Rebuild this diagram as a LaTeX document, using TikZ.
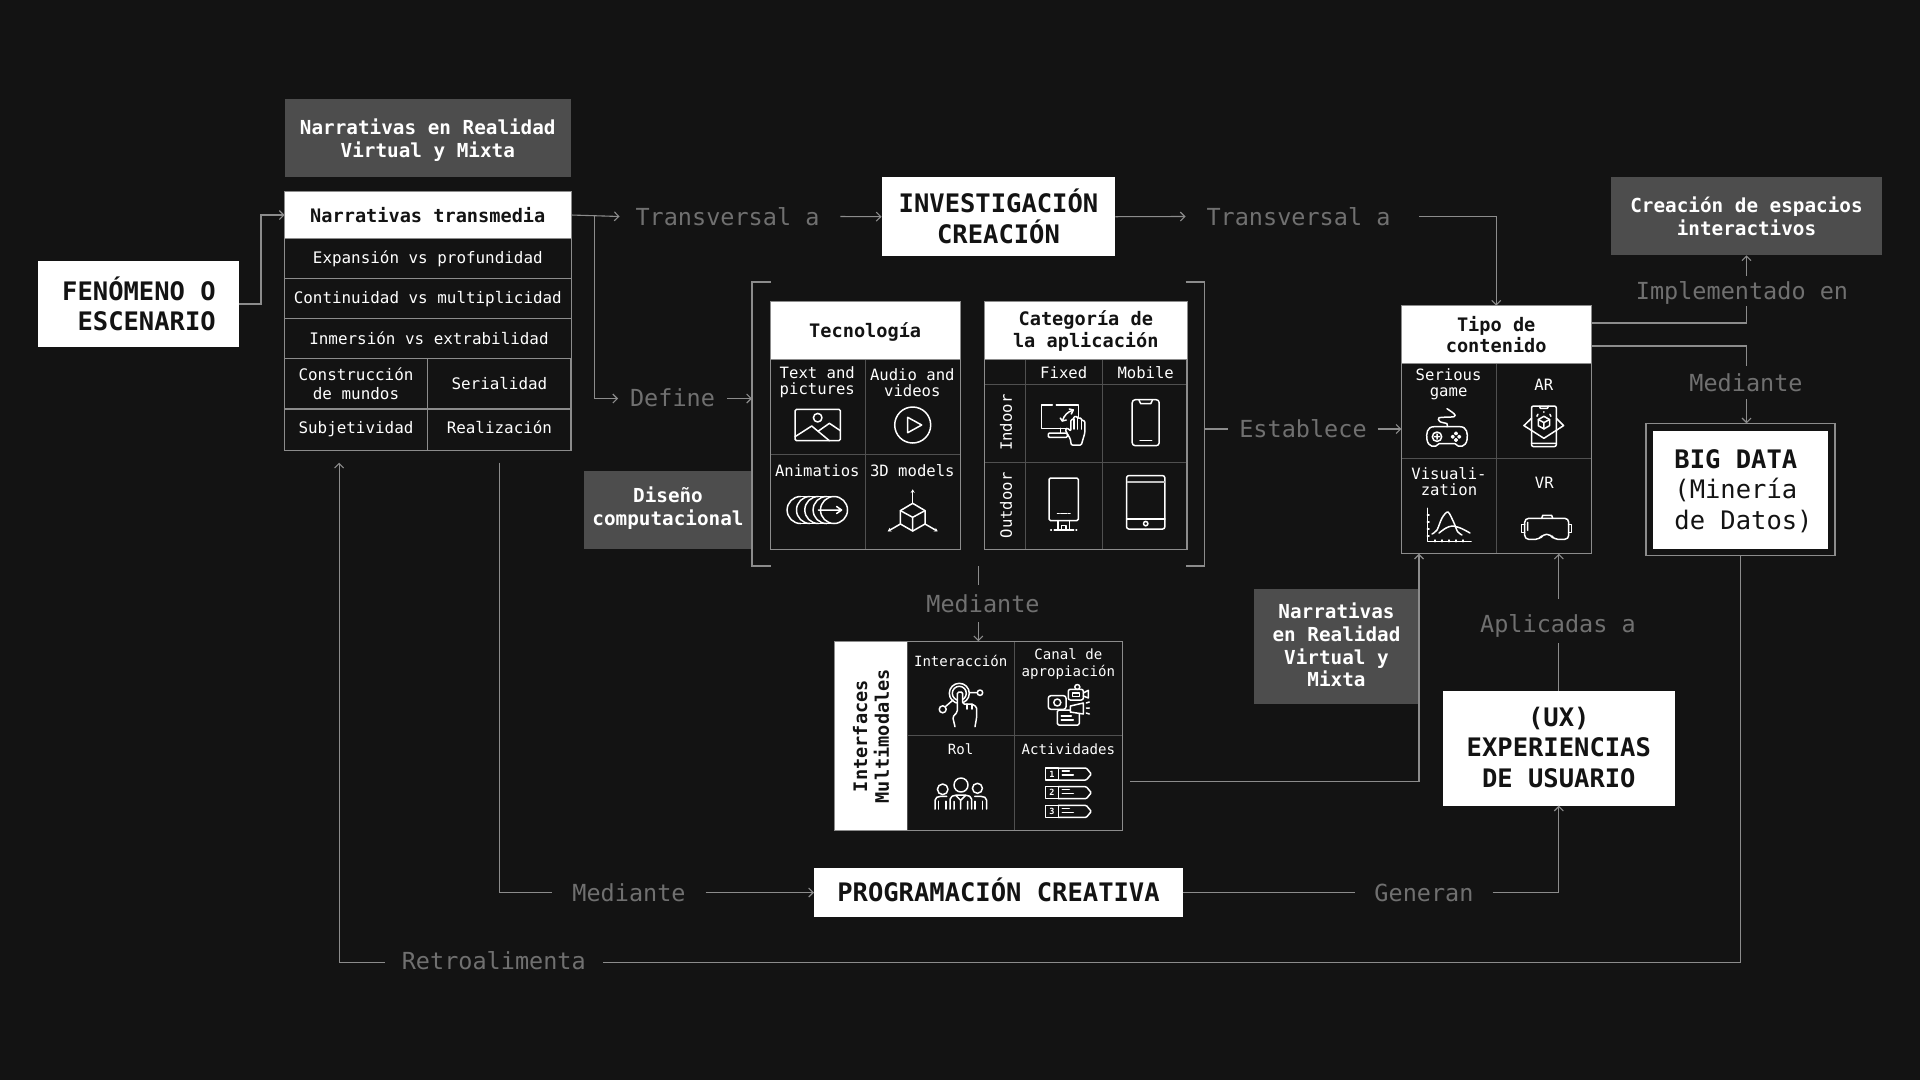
\documentclass[tikz,border=0pt]{standalone}
\usepackage{fontspec}
\setmainfont{DejaVu Sans Mono}
\usetikzlibrary{arrows.meta}
\definecolor{bgcol}{HTML}{131313}
\definecolor{linegray}{HTML}{8C8C8C}
\definecolor{cellgray}{HTML}{505050}
\definecolor{labgray}{HTML}{707070}
\definecolor{boxgray}{HTML}{4D4D4D}
\tikzset{
  >={Straight Barb[length=4.5pt,width=9pt]},
  conn/.style={draw=linegray,line width=1.1pt},
  arr/.style={conn,->},
  labeltxt/.style={text=labgray,font=\fontsize{23.5}{28}\selectfont,inner xsep=14pt,inner ysep=0pt,minimum height=32pt,outer sep=0pt},
  whitebox/.style={fill=white,inner sep=0pt,outer sep=0pt},
  whitetxt/.style={text=bgcol,font=\bfseries\fontsize{25.5}{30.5}\selectfont,align=center,inner sep=0pt},
  graybox/.style={fill=boxgray,inner sep=0pt,outer sep=0pt},
  graytxt/.style={text=white,font=\bfseries\fontsize{19.3}{22.8}\selectfont,align=center,inner sep=0pt},
  headbox/.style={fill=white,draw=linegray,line width=1pt,text=bgcol,font=\bfseries\fontsize{18.6}{21.8}\selectfont,align=center,inner sep=0pt,outer sep=0pt},
  rowcell/.style={draw=linegray,line width=1.1pt,inner sep=0pt,outer sep=0pt},
  cellbox/.style={draw=cellgray,line width=1pt,inner sep=0pt,outer sep=0pt},
  framebox/.style={draw=linegray,line width=1.1pt,inner sep=0pt,outer sep=0pt},
  rowtxt/.style={text=white,font=\fontsize{15.9}{19}\selectfont,align=center,inner sep=0pt},
  celltxt/.style={text=white,font=\fontsize{15.6}{16}\selectfont,align=center,inner sep=0pt},
  smalltxt/.style={text=white,font=\fontsize{14.1}{17}\selectfont,align=center,inner sep=0pt},
  iconln/.style={draw=white,line width=1.5pt,line cap=round,line join=round},
  imgicon/.pic={
    \draw[iconln,rounded corners=1.5pt] (-22.7,-15.7) rectangle (22.7,15.7);
    \draw[iconln] (0,-7.3) circle[radius=4.3];
    \draw[iconln] (-22.7,11.7) -- (-6,1) -- (11.7,15.7) (0.7,6) -- (11.7,-1.7) -- (22.7,5.7);
  },
  playicon/.pic={
    \draw[iconln] (0,0) circle[radius=18];
    \draw[iconln] (-5,-7.7) -- (-5,7.7) -- (9,0) -- cycle;
  },
  animicon/.pic={
    \foreach \cx in {-16.7,-7.3,1,9.3}
      \draw[iconln] (\cx,-13.5) arc (270:90:13.5);
    \draw[iconln] (-16.7,-13.5) -- (16.7,-13.5) (-16.7,13.5) -- (16.7,13.5);
    \draw[iconln] (16.7,0) circle[radius=13.5];
    \draw[iconln] (1,0) -- (24.3,0) (19.3,-3.5) -- (24.3,0) -- (19.3,3.5);
  },
  cubeicon/.pic={
    \draw[iconln] (0,-14) -- (12.3,-6.7) -- (12.3,6.7) -- (0,13.7) -- (-12.3,6.7) -- (-12.3,-6.7) -- cycle;
    \draw[iconln] (-12.3,-6.7) -- (0,0) -- (12.3,-6.7) (0,0) -- (0,13.7);
    \draw[iconln,-{Stealth[length=3.5pt,width=4pt]}] (0,-14) -- (0,-28);
    \draw[iconln,-{Stealth[length=3.5pt,width=4pt]}] (12.3,6.7) -- (25,14);
    \draw[iconln,-{Stealth[length=3.5pt,width=4pt]}] (-12.3,6.7) -- (-25,14);
  },
  monicon/.pic={
    \draw[iconln] (15,-4) -- (15,-20) -- (-7,-20) (-11,-20) -- (-21.7,-20) -- (-21.7,3.3) -- (4,3.3);
    \draw[iconln] (-3,3.3) -- (-3,8) (3,3.3) -- (3,8);
    \draw[iconln,rounded corners=1pt] (-15,8) rectangle (4,12.3);
    \draw[iconln] (-1,-4) .. controls (1,-10) and (4,-13) .. (10,-15);
    \draw[iconln] (-3,-7) -- (-1,-4) -- (3,-5) (6,-16) -- (10,-15) -- (8,-11);
    \draw[iconln,fill=bgcol,rounded corners=1pt] (8,20) -- (7,14) -- (2,5) -- (4,3) -- (7.5,6) -- (7.5,-5) -- (10.5,-6) -- (10.5,-8.5) -- (14,-8.5) -- (14,-7) -- (18,-7) -- (18,-5) -- (21.5,-4) -- (21.5,8) -- (18,20) -- cycle;
    \draw[iconln] (10.5,-6) -- (10.5,4) (14,-7) -- (14,4) (18,-5) -- (18,4);
  },
  phoneicon/.pic={
    \draw[iconln,rounded corners=3pt] (-13.5,-23) rectangle (13.5,23);
    \draw[iconln] (-6.7,-22.5) -- (-5,-19) -- (5,-19) -- (6.7,-22.5);
    \draw[iconln] (-5.7,18) -- (6,18);
  },
  kioskicon/.pic={
    \draw[iconln,rounded corners=1.5pt] (-14.7,-21.3) rectangle (14.7,21.3);
    \draw[iconln] (-6.3,14) -- (-4.5,14) (-3,14) -- (3,14) (4.5,14) -- (6.3,14);
    \draw[iconln] (-5.5,21.3) -- (-5.5,30.7) (6,21.3) -- (6,30.7) (-2,26) rectangle (2.5,30.7);
    \draw[iconln] (-9.5,30.7) -- (10,30.7) (-13,30.7) -- (-12.3,30.7) (12.3,30.7) -- (13,30.7);
  },
  tableticon/.pic={
    \draw[iconln,rounded corners=2.5pt] (-19.2,-26.8) rectangle (19.2,26.8);
    \draw[draw=white!75!black,line width=1.8pt] (-19.2,-20.7) -- (19.2,-20.7);
    \draw[iconln] (-19.2,16.7) -- (19.2,16.7);
    \draw[iconln] (0,21.3) circle[radius=2.2];
  },
  padicon/.pic={
    \draw[iconln] (-13,-10) -- (13,-10) .. controls (20,-10) and (21,-3) .. (20,3) .. controls (19,10) and (12,12) .. (8,7) -- (-8,7) .. controls (-12,12) and (-19,10) .. (-20,3) .. controls (-21,-3) and (-20,-10) .. (-13,-10) -- cycle;
    \draw[iconln] (-10,0) circle[radius=4.7] (-10,-2.5) -- (-10,2.5) (-12.5,0) -- (-7.5,0);
    \foreach \dx/\dy in {9/-3.3,9/3.3,5.7/0,12.3/0}
      \draw[iconln] (\dx,\dy) circle[radius=1.3];
    \draw[iconln] plot[smooth] coordinates {(0,-10) (0,-13) (-7,-15) (-8,-19) (7,-20) (7,-23) (0,-28)};
  },
  aricon/.pic={
    \draw[iconln,fill=bgcol] (-12.4,-8) -- (-20,-0.7) -- (0,12) -- (19.7,-0.7) -- (12.4,-8);
    \draw[iconln,rounded corners=2pt] (-12.4,-20.3) rectangle (12.4,20.3);
    \draw[iconln] (-4.5,-20) -- (-3.5,-18) -- (3.5,-18) -- (4.5,-20) (-12.4,17) -- (12.4,17);
    \draw[iconln] (0,-10) -- (5.6,-6.8) -- (5.6,-0.6) -- (0,2.6) -- (-5.6,-0.6) -- (-5.6,-6.8) -- cycle;
    \draw[iconln] (-5.6,-6.8) -- (0,-3.7) -- (5.6,-6.8) (0,-3.7) -- (0,2.6);
    \draw[iconln] (-7,-10) -- (-6,-12) (0,-14) -- (0,-14.5) (7,-10) -- (6,-12);
  },
  graphicon/.pic={
    \draw[iconln] (-21.7,-16.7) -- (-21.7,16.7) -- (22,16.7);
    \foreach \tx in {-14,-7,0,7,14}
      \draw[iconln] (\tx,16.7) -- (\tx,15);
    \foreach \ty in {-10,-3,4,11}
      \draw[iconln] (-21.7,\ty) -- (-20,\ty);
    \draw[iconln] plot[smooth] coordinates {(-17,9) (-12,5) (-7,-7) (-1,-13) (5,-2) (8.6,6.7) (13,10)};
    \draw[iconln] plot[smooth] coordinates {(-10,8) (-3,3) (3.4,1) (12,3.3) (21,8)};
  },
  vricon/.pic={
    \draw[iconln,rounded corners=4pt] (-22,-9) -- (22,-9) -- (22,12) -- (7,12) -- (4,7) -- (-4,7) -- (-7,12) -- (-22,12) -- cycle;
    \draw[iconln] (-22,-3) -- (-25,-3) -- (-25,5) -- (-22,5) (22,-3) -- (25,-3) -- (25,5) -- (22,5);
    \draw[iconln] (-5,-9) -- (-4,-12) -- (5,-12) -- (6,-9) (-19,-5) -- (-19,3);
  },
  touchicon/.pic={
    \draw[iconln] (-0.7,-11.7) circle[radius=10] (-0.7,-11.7) circle[radius=7];
    \draw[iconln] (20,-12.3) circle[radius=2.7] (9.5,-12.3) -- (17.3,-12.3);
    \draw[iconln] (-17.3,4.3) circle[radius=3.5] (-15,2) -- (-7,-5);
    \draw[iconln,fill=bgcol,rounded corners=1.5pt] (-5,21.7) -- (-7.3,12) -- (-2.7,7) -- (-2.7,-13) -- (2.7,-13) -- (2.7,-1) -- (7,-1) -- (12,-1) -- (16.7,2) -- (16.7,12) -- (15,21.7);
    \draw[iconln] (7,-1) -- (7,4) (12,-1) -- (12,4);
  },
  canalicon/.pic={
    \draw[iconln,rounded corners=1.5pt] (-11,5) rectangle (11,20);
    \draw[iconln] (-7,11) -- (3,11) (-7,15) -- (5,15);
    \draw[iconln,fill=bgcol,rounded corners=2.5pt] (-20,-9.3) rectangle (-2.3,4.3);
    \draw[iconln] (-11,-2.5) circle[radius=3.5];
    \draw[iconln,rounded corners=2pt] (0,-15.7) rectangle (15,-5);
    \draw[iconln] (4,-12) rectangle (11,-8.5);
    \draw[iconln] (15,-12) -- (20,-14.7) -- (20,-7) -- (15,-9);
    \draw[iconln] (9,-18) circle[radius=2.5];
    \draw[iconln,fill=bgcol] (2,1) -- (15,-2) -- (15,9) -- (2,7) -- cycle;
    \draw[iconln] (18,-2) -- (21,-3) (18,3) -- (21,3) (18,8) -- (21,9);
  },
  rolicon/.pic={
    \draw[iconln] (0.3,-8.3) circle[radius=7] (-18,-4) circle[radius=5.3] (16.7,-5) circle[radius=5];
    \draw[iconln,rounded corners=2pt] (-10.7,15.7) -- (-10.7,4) -- (-5.7,1.7) -- (6,1.7) -- (11,4) -- (11,15.7);
    \draw[iconln] (-6.7,15.7) -- (-6.7,8) (7,15.7) -- (7,8) (-5,2) -- (0,7) -- (5,2) (0,7) -- (0,15.7);
    \draw[iconln,rounded corners=2pt] (-25.7,15.7) -- (-25.7,5) -- (-22,3) -- (-14,3);
    \draw[iconln] (-22,15.7) -- (-22,8) (-14.5,15.7) -- (-14.5,8);
    \draw[iconln,rounded corners=2pt] (14,3) -- (22,3) -- (26,5) -- (26,15.7);
    \draw[iconln] (14.5,15.7) -- (14.5,8) (22,15.7) -- (22,8);
  },
  acticon/.pic={
    \foreach \r/\yy in {1/-18.7,2/0,3/18.7}{
      \draw[iconln] (-22.7,{\yy-6}) rectangle (-10,{\yy+6});
      \draw[iconln,rounded corners=1pt] (-10,{\yy-6}) -- (18,{\yy-6}) -- (23,\yy) -- (18,{\yy+6}) -- (-10,{\yy+6});
      \draw[iconln] (-6,{\yy-3}) -- (1,{\yy-3}) (-6,{\yy+1}) -- (5,{\yy+1});
      \node[text=white,font=\bfseries\fontsize{8.5}{9}\selectfont,inner sep=0pt] (dig\r) at (-16.3,\yy) {\r};
    }
  }
}
\begin{document}
\begin{tikzpicture}[x=1pt,y=-1pt]
  \fill[bgcol] (0,0) rectangle (1920,1080);
  % fixed boxes
  \node[whitebox,minimum width=201pt,minimum height=85.4pt] (fen) at (138.5,304) {};
  \node[whitetxt,align=right] (fent) at (139,304) {FENÓMENO O\\ESCENARIO};
  \node[graybox,minimum width=286.5pt,minimum height=78.3pt] (nrv) at (427.8,138.2) {};
  \node[graytxt] (nrvt) at (427.8,140.5) {Narrativas en Realidad\\Virtual y Mixta};
  \node[whitebox,minimum width=233.9pt,minimum height=78.5pt] (inv) at (998.5,216.7) {};
  \node[whitetxt] (invt) at (998.5,216.3) {INVESTIGACIÓN\\CREACIÓN};
  \node[graybox,minimum width=168pt,minimum height=78pt] (dis) at (668,510.3) {};
  \node[graytxt] (dist) at (668,507.8) {Diseño\\computacional};
  \node[graybox,minimum width=271pt,minimum height=78pt] (crea) at (1746.5,216.3) {};
  \node[graytxt,font=\bfseries\fontsize{19.3}{22.2}\selectfont] (creat) at (1746.5,216.3) {Creación de espacios\\interactivos};
  \node[graybox,minimum width=164pt,minimum height=115pt] (nrw) at (1336,646.5) {};
  \node[graytxt] (nrwt) at (1336.5,645) {Narrativas\\en Realidad\\Virtual y\\Mixta};
  \node[whitebox,minimum width=232.5pt,minimum height=115.1pt] (ux) at (1558.8,748.1) {};
  \node[whitetxt] (uxt) at (1558.8,747) {(UX)\\EXPERIENCIAS\\DE USUARIO};
  \node[whitebox,minimum width=369pt,minimum height=49pt] (pro) at (998.5,892.5) {};
  \node[whitetxt,text depth=4.8pt] (prot) at (998.5,892.5) {PROGRAMACIÓN CREATIVA};
  \node[framebox,minimum width=189pt,minimum height=132.4pt] (bigo) at (1740.5,489.5) {};
  \node[whitebox,minimum width=174.9pt,minimum height=118pt] (bigi) at (1740.8,489.7) {};
  \node[whitetxt,align=left] (bigt) at (1743.5,491) {BIG DATA\\\mdseries(Minería\\\mdseries de Datos)};
  % left table
  \node[headbox,minimum width=286.5pt,minimum height=46.6pt] (tr0) at (427.8,215) {Narrativas transmedia};
  \foreach \n/\x/\y/\w/\h in {tr1/427.8/258.3/286.5/40,tr2/427.8/298.5/286.5/40.4,tr3/427.8/338.5/286.5/39.6,tr4a/356.1/383.6/143.3/50.7,tr4b/499.4/383.6/143.2/50.7,tr5a/356.1/429.8/143.3/41.7,tr5b/499.4/429.8/143.2/41.7}
    \node[rowcell,minimum width=\w pt,minimum height=\h pt] (\n) at (\x,\y) {};
  \node[rowtxt] (tt1) at (427.8,259) {Expansión vs profundidad};
  \node[rowtxt] (tt2) at (427.8,299.3) {Continuidad vs multiplicidad};
  \node[rowtxt] (tt3) at (429,338.7) {Inmersión vs extrabilidad};
  \node[rowtxt] (tt4) at (356,384) {Construcción\\de mundos};
  \node[rowtxt] (tt5) at (499.4,383.3) {Serialidad};
  \node[rowtxt] (tt6) at (356,428.9) {Subjetividad};
  \node[rowtxt] (tt7) at (499.4,427.2) {Realización};
  % tecnologia
  \foreach \n/\x/\y in {tc1/818/406.8,tc2/912.8/406.8,tc3/818/501.8,tc4/912.8/501.8}
    \node[cellbox,minimum width=94.7pt,minimum height=95pt] (\n) at (\x,\y) {};
  \node[framebox,minimum width=189.7pt,minimum height=247.3pt] (tcf) at (865.2,425.6) {};
  \node[headbox,text depth=2pt,minimum width=189.7pt,minimum height=57.3pt] (tch) at (865.2,330.6) {Tecnología};
  \node[celltxt] (tt8) at (817.3,382.3) {Text and\\pictures};
  \node[celltxt] (tt9) at (912.3,382.3) {Audio and\\videos};
  \node[celltxt] (tt10) at (817.3,471) {Animatios};
  \node[celltxt] (tt11) at (912.3,471) {3D models};
  \pic at (817.7,425) {imgicon};
  \pic at (912.7,425) {playicon};
  \pic at (817.3,510) {animicon};
  \pic at (912.7,517.3) {cubeicon};
  % categoria
  \foreach \n/\x/\y/\w/\h in {ca0/1005/371.8/40.8/25,ca1/1063.9/371.8/77/25,ca2/1144.7/371.8/84.6/25,ca3/1005/423.3/40.8/78,ca4/1063.9/423.3/77/78,ca5/1144.7/423.3/84.6/78,ca6/1005/505.8/40.8/87,ca7/1063.9/505.8/77/87,ca8/1144.7/505.8/84.6/87}
    \node[cellbox,minimum width=\w pt,minimum height=\h pt] (\n) at (\x,\y) {};
  \node[framebox,minimum width=202.4pt,minimum height=247.3pt] (caf) at (1085.8,425.6) {};
  \node[headbox,minimum width=202.4pt,minimum height=57.3pt] (cah) at (1085.8,330.6) {Categoría de\\la aplicación};
  \node[celltxt] (tt12) at (1063.7,372.3) {Fixed};
  \node[celltxt] (tt13) at (1145.7,372.3) {Mobile};
  \node[celltxt,rotate=90] (tt14) at (1006,422.7) {Indoor};
  \node[celltxt,rotate=90] (tt15) at (1006,505.3) {Outdoor};
  \pic at (1063.3,425) {monicon};
  \pic at (1145.7,422.7) {phoneicon};
  \pic at (1063.7,499.3) {kioskicon};
  \pic at (1145.7,502.3) {tableticon};
  % tipo de contenido
  \foreach \n/\x/\y/\w/\h in {tp1/1449/410.8/95.4/95,tp2/1543.9/410.8/94.3/95,tp3/1449/506/95.4/95.4,tp4/1543.9/506/94.3/95.4}
    \node[cellbox,minimum width=\w pt,minimum height=\h pt] (\n) at (\x,\y) {};
  \node[framebox,minimum width=189.7pt,minimum height=248pt] (tpf) at (1496.2,429.7) {};
  \node[headbox,minimum width=189.7pt,minimum height=57.6pt] (tph) at (1496.2,334.5) {Tipo de\\contenido};
  \node[celltxt] (tt16) at (1448.6,384.7) {Serious\\game};
  \node[celltxt] (tt17) at (1543.8,385) {AR};
  \node[celltxt] (tt18) at (1449,481.3) {Visuali-\\zation};
  \node[celltxt] (tt19) at (1544.3,483.3) {VR};
  \pic at (1447,436.7) {padicon};
  \pic at (1543.9,426.3) {aricon};
  \pic at (1449,525) {graphicon};
  \pic at (1546.7,527.3) {vricon};
  % interfaces
  \foreach \n/\x/\y/\w/\h in {if1/960.7/688.5/107.3/94.4,if2/1068.3/688.5/108/94.4,if3/960.7/783.2/107.3/95,act/1068.3/783.2/108/95}
    \node[cellbox,minimum width=\w pt,minimum height=\h pt] (\n) at (\x,\y) {};
  \node[framebox,minimum width=287.6pt,minimum height=189.4pt] (ifz) at (978.5,736) {};
  \node[headbox,draw=none,rotate=90,minimum width=188pt,minimum height=71.3pt] (ifh) at (871,736) {Interfaces\\Multimodales};
  \node[smalltxt] (tt20) at (960.7,661) {Interacción};
  \node[smalltxt] (tt21) at (1068.3,663.7) {Canal de\\apropiación};
  \node[smalltxt] (tt22) at (960.7,749) {Rol};
  \node[smalltxt] (tt23) at (1068.3,749) {Actividades};
  \pic at (960,705) {touchicon};
  \pic at (1068.3,705) {canalicon};
  \pic at (960.7,793.3) {rolicon};
  \pic at (1068.3,792.7) {acticon};
  % group bracket
  \node[minimum width=452.7pt,minimum height=284pt,inner sep=0pt,outer sep=0pt] (grp) at (978.35,424) {};
  \draw[conn] ([xshift=19pt]grp.north west) -- (grp.north west) -- (grp.south west) -- ([xshift=19pt]grp.south west);
  \draw[conn] ([xshift=-19pt]grp.north east) -- (grp.north east) -- (grp.south east) -- ([xshift=-19pt]grp.south east);
  % labels
  \node[labeltxt,inner xsep=16pt] (ta1) at (727.5,216.5) {Transversal a};
  \node[labeltxt,inner xsep=12pt,text depth=2.5pt] (def) at (672.5,398.5) {Define};
  \node[labeltxt,inner xsep=21pt] (ta2) at (1298.5,216.5) {Transversal a};
  \node[labeltxt,inner xsep=11pt] (est) at (1303,429) {Establece};
  \node[labeltxt,minimum height=37pt] (med1) at (983,603.7) {Mediante};
  \node[labeltxt,minimum height=30pt,text height=21.5pt] (imp) at (1742,291) {Implementado en};
  \node[labeltxt,minimum height=33pt] (med2) at (1746,382.5) {Mediante};
  \node[labeltxt,minimum height=44pt,text height=27.7pt] (apl) at (1558,621) {Aplicadas a};
  \node[labeltxt,inner xsep=20pt] (med3) at (629,892.5) {Mediante};
  \node[labeltxt,inner xsep=19pt] (gen) at (1424,892.5) {Generan};
  \node[labeltxt,inner xsep=17pt,text depth=4pt] (ret) at (493.8,962.5) {Retroalimenta};
  % connectors
  \draw[arr] (fen.east) -- ++(22,0) |- (tr0.west);
  \draw[arr] (tr0.east) -- (ta1.west);
  \draw[arr,shorten <=5pt] (ta1.east) -- (inv.west);
  \draw[arr] (tr0.east) ++(23,0) |- (def.west);
  \draw[arr] (def.east) -- (grp.west |- def.east);
  \draw[arr] (inv.east) -- (ta2.west);
  \draw[arr,shorten <=8pt] (ta2.east) -| (tph.north);
  \draw[conn] (grp.east |- est.west) -- (est.west);
  \draw[arr] (est.east) -- (est.east -| tp1.west);
  \draw[conn] (grp.south) -- (grp.south |- med1.north);
  \draw[arr] (grp.south |- med1.south) -- (grp.south |- ifz.north);
  \draw[arr] ([xshift=8pt,yshift=1.5pt]act.east) -| ([xshift=-30pt]tp3.south);
  \draw[conn] ([yshift=11.5pt]tph.east) -| (crea.south |- imp.south);
  \draw[arr] (crea.south |- imp.north) -- (crea.south);
  \draw[conn] ([yshift=-11.5pt]tph.east) -| (crea.south |- med2.north);
  \draw[arr] (crea.south |- med2.south) -- (crea.south |- bigo.north);
  \draw[conn] (ux.north) -- (ux.north |- apl.south);
  \draw[arr] (ux.north |- apl.north) -- (ux.north |- tp4.south);
  \draw[conn,shorten <=12pt] (tr5b.south) |- (med3.west);
  \draw[arr] (med3.east) -- (pro.west);
  \draw[conn] (pro.east) -- (gen.west);
  \draw[arr] (gen.east) -| (ux.south);
  \draw[conn] (bigo.south) |- (ret.east);
  \draw[arr,shorten >=12pt] (ret.west) -| ([xshift=-17pt]tr5a.south);
\end{tikzpicture}
\end{document}
